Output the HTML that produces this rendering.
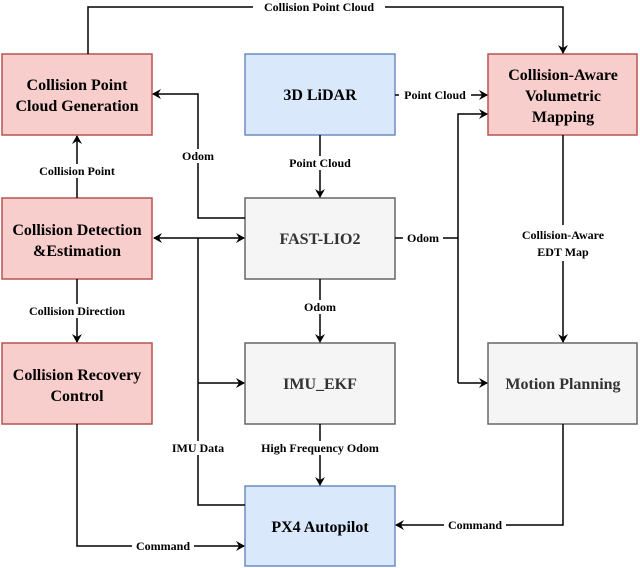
<!DOCTYPE html>
<html><head><meta charset="utf-8"><style>
html,body{margin:0;padding:0;background:#fff;}
svg{display:block;}
.b{font-family:"Liberation Serif",serif;font-weight:bold;font-size:16px;text-anchor:middle;}
.l{font-family:"Liberation Serif",serif;font-weight:bold;font-size:12px;text-anchor:middle;}
.ln{stroke:#000;stroke-width:1.5;fill:none;}
</style></head><body>
<svg width="640" height="568" viewBox="0 0 640 568" xmlns="http://www.w3.org/2000/svg">
<defs><marker id="a" markerWidth="10" markerHeight="10" refX="8" refY="5" orient="auto" markerUnits="userSpaceOnUse"><path d="M0,0 L9,5 L0,10 L3,5 Z" fill="#000"/></marker>
<marker id="s" markerWidth="10" markerHeight="10" refX="1" refY="5" orient="auto" markerUnits="userSpaceOnUse"><path d="M9,0 L0,5 L9,10 L6,5 Z" fill="#000"/></marker></defs>
<!-- boxes -->
<rect x="2" y="54" width="150" height="81" fill="#f8cecc" stroke="#b85450" stroke-width="1.5"/>
<rect x="245" y="54" width="150" height="81" fill="#dae8fc" stroke="#6c8ebf" stroke-width="1.5"/>
<rect x="488" y="54" width="149" height="81" fill="#f8cecc" stroke="#b85450" stroke-width="1.5"/>
<rect x="2" y="198" width="150" height="81" fill="#f8cecc" stroke="#b85450" stroke-width="1.5"/>
<rect x="245" y="198" width="150" height="81" fill="#f5f5f5" stroke="#666" stroke-width="1.5"/>
<rect x="2" y="343" width="150" height="81" fill="#f8cecc" stroke="#b85450" stroke-width="1.5"/>
<rect x="245" y="343" width="150" height="81" fill="#f5f5f5" stroke="#666" stroke-width="1.5"/>
<rect x="488" y="343" width="149" height="81" fill="#f5f5f5" stroke="#666" stroke-width="1.5"/>
<rect x="245" y="486" width="150" height="80" fill="#dae8fc" stroke="#6c8ebf" stroke-width="1.5"/>
<!-- box text -->
<text class="b" x="77" y="90">Collision Point</text><text class="b" x="77" y="111">Cloud Generation</text>
<text class="b" x="320" y="100">3D LiDAR</text>
<text class="b" x="563" y="80">Collision-Aware</text><text class="b" x="563" y="101">Volumetric</text><text class="b" x="563" y="122">Mapping</text>
<text class="b" x="77" y="235">Collision Detection</text><text class="b" x="77" y="256">&amp;Estimation</text>
<text class="b" x="320" y="244" fill="#333">FAST-LIO2</text>
<text class="b" x="77" y="380">Collision Recovery</text><text class="b" x="77" y="401">Control</text>
<text class="b" x="320" y="389" fill="#333">IMU_EKF</text>
<text class="b" x="563" y="389" fill="#333">Motion Planning</text>
<text class="b" x="320" y="532">PX4 Autopilot</text>
<!-- connectors -->
<path class="ln" d="M88,54 V7 H563 V53" marker-end="url(#a)"/>
<path class="ln" d="M245,218 H198 V94 H153" marker-end="url(#a)"/>
<path class="ln" d="M77,198 V136" marker-end="url(#a)"/>
<path class="ln" d="M154,238 H244" marker-start="url(#s)" marker-end="url(#a)"/>
<path class="ln" d="M198,238 V505 H245"/>
<path class="ln" d="M198,383 H244" marker-end="url(#a)"/>
<path class="ln" d="M320,135 V197" marker-end="url(#a)"/>
<path class="ln" d="M395,95 H487" marker-end="url(#a)"/>
<path class="ln" d="M395,238 H458"/>
<path class="ln" d="M458,383 V114 H487" marker-end="url(#a)"/>
<path class="ln" d="M458,383 H487" marker-end="url(#a)"/>
<path class="ln" d="M563,135 V342" marker-end="url(#a)"/>
<path class="ln" d="M320,279 V342" marker-end="url(#a)"/>
<path class="ln" d="M320,424 V485" marker-end="url(#a)"/>
<path class="ln" d="M77,279 V342" marker-end="url(#a)"/>
<path class="ln" d="M77,424 V546 H244" marker-end="url(#a)"/>
<path class="ln" d="M563,424 V525 H396" marker-end="url(#a)"/>
<!-- labels -->
<g class="l">
<rect x="253" y="0" width="132" height="14" fill="#fff"/><text class="l" x="319" y="11">Collision Point Cloud</text>
<rect x="178" y="149" width="40" height="14" fill="#fff"/><text class="l" x="198" y="160">Odom</text>
<rect x="32" y="164" width="92" height="14" fill="#fff"/><text class="l" x="77" y="175">Collision Point</text>
<rect x="282" y="156" width="76" height="14" fill="#fff"/><text class="l" x="320" y="167">Point Cloud</text>
<rect x="399" y="88" width="72" height="14" fill="#fff"/><text class="l" x="435" y="99">Point Cloud</text>
<rect x="403" y="231" width="40" height="14" fill="#fff"/><text class="l" x="423" y="242">Odom</text>
<rect x="512" y="225" width="102" height="36" fill="#fff"/><text class="l" x="563" y="239">Collision-Aware</text><text class="l" x="563" y="256">EDT Map</text>
<rect x="300" y="300" width="40" height="14" fill="#fff"/><text class="l" x="320" y="311">Odom</text>
<rect x="20" y="304" width="114" height="14" fill="#fff"/><text class="l" x="77" y="315">Collision Direction</text>
<rect x="166" y="441" width="64" height="14" fill="#fff"/><text class="l" x="198" y="452">IMU Data</text>
<rect x="250" y="441" width="140" height="14" fill="#fff"/><text class="l" x="320" y="452">High Frequency Odom</text>
<rect x="132" y="539" width="62" height="14" fill="#fff"/><text class="l" x="163" y="550">Command</text>
<rect x="444" y="518" width="62" height="14" fill="#fff"/><text class="l" x="475" y="529">Command</text>
</g>
</svg>
</body></html>
